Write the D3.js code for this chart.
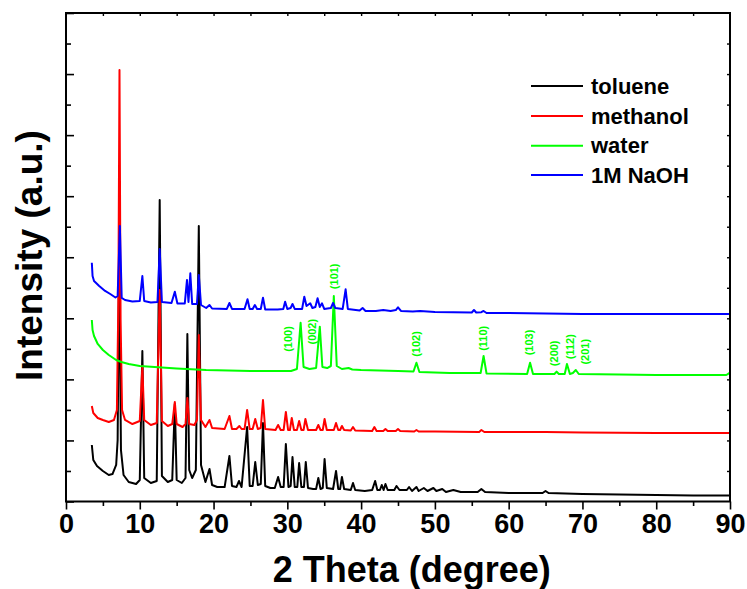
<!DOCTYPE html>
<html>
<head>
<meta charset="utf-8">
<script src="https://cdn.jsdelivr.net/npm/d3@7"></script>
<style>
  html, body { margin: 0; padding: 0; background: #fff; }
  svg { display: block; font-family: "Liberation Sans", Arial, sans-serif; }
</style>
</head>
<body>
<svg id="chart" width="747" height="589"></svg>
<script>
// ---- data (2θ in degrees, intensity in a.u., traces already offset as plotted) ----
const seriesNames = ["toluene", "methanol", "water", "1M NaOH"];
const seriesColors = ["#000000", "#ff0000", "#00ff00", "#0000ff"];

const toluene = [[3.5,925],[3.7,680],[4.2,581],[5.0,500],[5.8,434],[6.3,450],[6.8,598],[7.0,1007],[7.2,4119],[7.45,843],[7.8,434],[8.5,319],[9.5,287],[10.0,352],[10.35,2465],[10.6,385],[11.5,303],[12.3,336],[12.7,4938],[13.0,418],[13.8,319],[14.4,352],[14.75,1597],[15.0,352],[15.7,303],[16.2,385],[16.45,2743],[16.7,516],[17.1,385],[17.6,516],[18.0,4512],[18.3,598],[18.9,319],[19.45,532],[19.8,270],[20.5,237],[21.5,237],[22.15,745],[22.5,254],[23.1,237],[23.45,336],[23.8,237],[24.55,1220],[24.9,254],[25.3,254],[25.65,647],[26.0,270],[26.4,287],[26.7,1286],[27.0,254],[27.7,221],[28.3,221],[28.75,401],[29.1,237],[29.5,237],[29.8,942],[30.15,237],[30.45,254],[30.7,729],[31.0,237],[31.35,237],[31.6,631],[31.9,237],[32.25,237],[32.5,647],[32.8,221],[33.5,205],[33.9,205],[34.2,385],[34.5,205],[34.8,221],[35.05,696],[35.35,221],[36.2,205],[36.6,500],[36.9,205],[37.15,205],[37.4,401],[37.7,205],[38.6,188],[38.9,303],[39.2,188],[40.5,172],[41.5,188],[41.9,336],[42.2,188],[42.55,188],[42.8,270],[43.05,188],[43.3,287],[43.6,188],[44.5,188],[44.8,254],[45.2,188],[46.2,188],[46.5,237],[46.9,172],[47.5,237],[47.8,172],[48.5,221],[49.0,172],[49.8,221],[50.2,172],[51.0,205],[51.5,156],[52.5,188],[53.5,156],[55.8,156],[56.3,205],[56.8,156],[60,139],[64.6,139],[65.0,172],[65.4,139],[70,123],[75,115],[80,106],[85,98],[90,98]];

const methanol = [[3.5,1564],[3.7,1449],[4.3,1368],[5.0,1335],[5.8,1302],[6.5,1335],[6.9,1499],[7.1,3300],[7.25,7067],[7.4,2973],[7.6,1499],[8.0,1335],[9.0,1269],[10.0,1318],[10.35,2219],[10.6,1335],[11.5,1253],[12.3,1286],[12.7,3464],[13.0,1318],[13.8,1237],[14.4,1269],[14.75,1630],[15.0,1269],[15.8,1220],[16.2,1269],[16.45,1695],[16.7,1269],[17.4,1253],[17.75,1335],[18.0,2727],[18.3,1335],[18.9,1220],[19.45,1335],[19.8,1204],[21.5,1187],[22.15,1400],[22.5,1187],[23.1,1187],[23.5,1237],[23.8,1187],[24.2,1187],[24.55,1499],[24.9,1187],[25.3,1187],[25.65,1351],[26.0,1187],[26.4,1204],[26.7,1662],[27.0,1187],[28.4,1171],[28.75,1253],[29.1,1171],[29.5,1171],[29.8,1466],[30.1,1171],[30.35,1171],[30.6,1368],[30.9,1171],[31.3,1171],[31.6,1318],[31.9,1171],[32.2,1171],[32.45,1351],[32.8,1171],[33.9,1171],[34.2,1253],[34.5,1171],[34.8,1171],[35.05,1351],[35.35,1171],[36.3,1171],[36.6,1286],[36.9,1171],[37.15,1171],[37.4,1237],[37.7,1171],[38.6,1163],[38.9,1220],[39.2,1163],[41.5,1155],[41.8,1220],[42.1,1155],[43.0,1155],[43.3,1187],[43.6,1155],[44.7,1155],[45.0,1187],[45.3,1155],[47.2,1146],[47.5,1171],[47.8,1146],[50,1146],[56.0,1140],[56.3,1171],[56.7,1138],[65,1138],[70,1130],[80,1122],[90,1122]];

const water = [[3.5,2973],[3.6,2809],[3.8,2711],[4.3,2580],[5.0,2481],[5.8,2399],[6.8,2317],[7.5,2285],[8.5,2252],[10.0,2219],[12.0,2203],[15.0,2178],[19.0,2154],[25.0,2137],[30.5,2137],[31.3,2170],[31.8,2928],[32.2,2203],[33.0,2170],[33.9,2186],[34.4,2863],[34.75,2203],[35.4,2186],[35.9,2219],[36.3,3366],[36.7,2219],[37.4,2170],[38.3,2186],[38.8,2162],[40,2154],[45,2137],[47.1,2129],[47.5,2273],[47.9,2121],[52,2105],[56.2,2105],[56.6,2383],[57.0,2096],[62.5,2088],[62.9,2273],[63.3,2088],[66.2,2088],[66.5,2126],[66.8,2088],[67.6,2088],[67.9,2252],[68.3,2088],[68.7,2105],[69.1,2154],[69.5,2088],[75,2080],[80,2072],[89.5,2072],[90,2109]];

const naoh = [[3.5,3911],[3.6,3693],[3.8,3611],[4.5,3529],[5.3,3448],[6.0,3398],[6.7,3341],[7.0,3366],[7.3,4512],[7.55,3333],[8.0,3300],[9.0,3276],[10.0,3284],[10.35,3693],[10.6,3284],[11.5,3259],[12.4,3267],[12.7,4135],[13.0,3267],[14.3,3251],[14.75,3436],[15.1,3243],[16.1,3243],[16.4,3628],[16.6,3267],[16.85,3737],[17.1,3235],[17.75,3235],[18.0,3710],[18.3,3218],[19.0,3169],[19.45,3218],[19.8,3161],[21.8,3153],[22.15,3251],[22.5,3153],[24.2,3153],[24.6,3312],[24.9,3153],[25.3,3153],[25.6,3218],[25.9,3153],[26.4,3153],[26.7,3338],[27.0,3144],[28.7,3144],[29.45,3153],[29.7,3272],[30.0,3153],[30.45,3169],[30.7,3235],[31.0,3153],[32.0,3153],[32.3,3354],[32.6,3202],[33.1,3246],[33.4,3169],[33.8,3186],[34.1,3328],[34.4,3186],[34.7,3246],[35.0,3153],[35.9,3169],[36.2,3251],[36.5,3169],[37.5,3153],[37.9,3475],[38.2,3153],[39.8,3128],[40.2,3169],[40.6,3120],[42,3120],[43,3136],[44,3120],[44.7,3136],[45.0,3181],[45.4,3120],[47,3112],[48,3120],[50,3104],[55.0,3095],[55.3,3136],[55.6,3095],[56.3,3100],[56.6,3120],[57.0,3087],[60,3087],[65,3079],[70,3071],[80,3071],[90,3071]];

// Miller-index annotations on the water trace
const hklLabels = ["(100)","(002)","(101)","(102)","(110)","(103)","(200)","(112)","(201)"];
const hklTheta = [30.13, 33.3, 36.28, 47.44, 56.48, 62.8, 66.14, 68.31, 70.34];
const hklIntensity = [2661, 2781, 3688, 2580, 2673, 2604, 2427, 2535, 2453];

const xTicks = [0,10,20,30,40,50,60,70,80,90];
const xTitle = "2 Theta (degree)";
const yTitle = "Intensity (a.u.)";

// ---- layout ----
const svg = d3.select("#chart");
const L = 66, R = 730, T = 13, B = 501.5;
const x = d3.scaleLinear().domain([0, 90]).range([L, R]);
const y = d3.scaleLinear().domain([0, 8000]).range([B, T]);

svg.append("defs").append("clipPath").attr("id", "clip")
  .append("rect").attr("x", L).attr("y", T).attr("width", R - L).attr("height", B - T);

const line = d3.line().x(d => x(d[0])).y(d => y(d[1]));
const allSeries = [toluene, methanol, water, naoh];
const gData = svg.append("g").attr("clip-path", "url(#clip)");
allSeries.forEach((s, i) => {
  gData.append("path").datum(s)
    .attr("d", line)
    .attr("fill", "none")
    .attr("stroke", seriesColors[i])
    .attr("stroke-width", 2)
    .attr("stroke-linejoin", "round");
});

// hkl labels
hklLabels.forEach((t, i) => {
  svg.append("text")
    .attr("transform", `translate(${x(hklTheta[i])},${y(hklIntensity[i])}) rotate(-90)`)
    .attr("text-anchor", "middle")
    .attr("dy", "0.36em")
    .attr("font-size", 11)
    .attr("font-weight", "bold")
    .attr("fill", "#00ff00")
    .text(t);
});

// ---- axes ----
const axisStroke = 2;
const xAxis = d3.axisBottom(x).tickValues(xTicks).tickSize(8).tickPadding(4).tickFormat(d3.format("d"));
const gx = svg.append("g").attr("transform", `translate(0,${B})`).call(xAxis);
gx.select(".domain").remove();
gx.selectAll(".tick line").attr("stroke-width", 1.6);
gx.selectAll(".tick text").attr("font-size", 27).attr("font-weight", "bold")
  .attr("font-family", "Liberation Sans, Arial, sans-serif").attr("fill", "#000");
const gxm = svg.append("g").attr("transform", `translate(0,${B})`)
  .call(d3.axisBottom(x).tickValues(d3.range(5, 90, 10)).tickSize(4.5).tickFormat(""));
gxm.select(".domain").remove();
gxm.selectAll(".tick line").attr("stroke-width", 1.6);

const gy = svg.append("g").attr("transform", `translate(${L},0)`)
  .call(d3.axisRight(y).tickValues(d3.range(0, 8001, 1000)).tickSize(8).tickFormat(""));
gy.select(".domain").remove();
gy.selectAll(".tick line").attr("stroke-width", 1.6);
const gym = svg.append("g").attr("transform", `translate(${L},0)`)
  .call(d3.axisRight(y).tickValues(d3.range(500, 8000, 1000)).tickSize(5).tickFormat(""));
gym.select(".domain").remove();
gym.selectAll(".tick line").attr("stroke-width", 1.6);

const gt = svg.append("g").attr("transform", `translate(0,${T})`)
  .call(d3.axisBottom(x).tickValues(d3.range(5, 90, 5)).tickSize(3).tickFormat(""));
gt.select(".domain").remove();
gt.selectAll(".tick line").attr("stroke-width", 1.4);
const gr = svg.append("g").attr("transform", `translate(${R},0)`)
  .call(d3.axisLeft(y).tickValues(d3.range(500, 8000, 500)).tickSize(3).tickFormat(""));
gr.select(".domain").remove();
gr.selectAll(".tick line").attr("stroke-width", 1.4);

svg.append("rect").attr("x", L).attr("y", T).attr("width", R - L).attr("height", B - T)
  .attr("fill", "none").attr("stroke", "#000").attr("stroke-width", axisStroke);

svg.append("text")
  .attr("x", 411.7).attr("y", 581.5)
  .attr("text-anchor", "middle")
  .attr("font-size", 36).attr("font-weight", "bold")
  .text(xTitle);
svg.append("text")
  .attr("transform", `translate(42,255.5) rotate(-90)`)
  .attr("text-anchor", "middle")
  .attr("font-size", 37).attr("font-weight", "bold")
  .text(yTitle);

const legendY = [86, 116, 145.7, 175];
seriesNames.forEach((n, i) => {
  svg.append("line")
    .attr("x1", 531).attr("x2", 583).attr("y1", legendY[i]).attr("y2", legendY[i])
    .attr("stroke", seriesColors[i]).attr("stroke-width", 2);
  svg.append("text")
    .attr("x", 591).attr("y", legendY[i]).attr("dy", "0.35em")
    .attr("font-size", 22).attr("font-weight", "bold")
    .text(n);
});
</script>
</body>
</html>
